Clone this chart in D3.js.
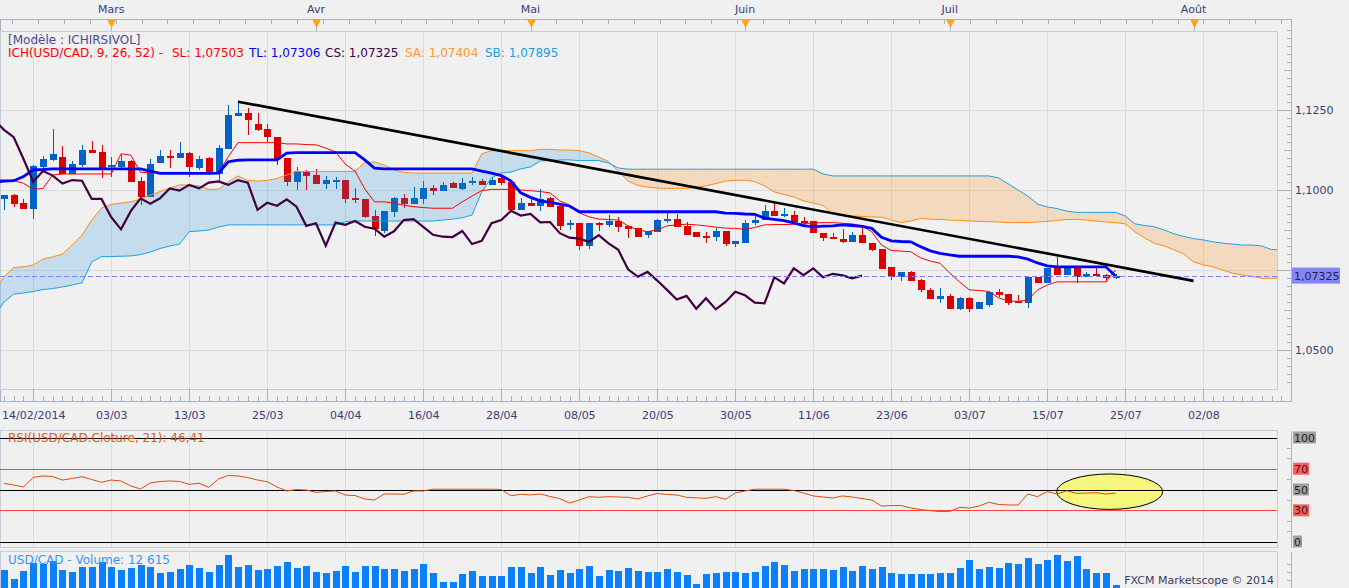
<!DOCTYPE html>
<html><head><meta charset="utf-8">
<script src="https://cdn.jsdelivr.net/npm/d3@7/dist/d3.min.js"></script>
<style>
html,body{margin:0;padding:0;background:#f0f0f0;overflow:hidden;}
svg{display:block;}
</style></head>
<body>
<svg id="chart" width="1349" height="588"></svg>
<script>
// ---------------- DATA ----------------
const opens = [
1.0973,1.0984,1.0960,1.0941,1.1073,1.1095,1.1103,1.1049,1.1078,1.1125,
1.1119,1.1073,1.1073,1.1091,1.1028,1.0979,1.1085,1.1106,1.1101,1.1116,
1.1068,1.1101,1.1050,1.1128,1.1232,1.1240,1.1206,1.1191,1.1166,1.1099,
1.1026,1.1057,1.1047,1.1020,1.1028,1.1031,1.0974,1.0972,1.0919,1.0873,
1.0932,1.0974,1.0957,1.0972,1.1005,1.0998,1.1023,1.1003,1.1025,1.1029,
1.1016,1.1037,1.1026,1.0938,1.0960,1.0951,1.0974,1.0950,1.0891,1.0898,
1.0826,1.0898,1.0891,1.0903,1.0888,1.0882,1.0858,1.0870,1.0904,1.0909,
1.0888,1.0869,1.0855,1.0854,1.0872,1.0831,1.0835,1.0896,1.0906,1.0935,
1.0920,1.0922,1.0902,1.0903,1.0867,1.0854,1.0848,1.0838,1.0859,1.0835,
1.0815,1.0758,1.0727,1.0744,1.0719,1.0688,1.0660,1.0669,1.0629,1.0662,
1.0629,1.0641,1.0681,1.0675,1.0651,1.0646,1.0729,1.0708,1.0755,1.0734,
1.0755,1.0727,1.0738,1.0734,1.0724];
const highs = [
1.0984,1.0988,1.0972,1.1078,1.1106,1.1191,1.1138,1.1091,1.1141,1.1153,
1.1141,1.1104,1.1109,1.1094,1.1041,1.1096,1.1125,1.1125,1.1149,1.1120,
1.1106,1.1104,1.1141,1.1266,1.1276,1.1255,1.1240,1.1205,1.1166,1.1099,
1.1071,1.1063,1.1065,1.1044,1.1040,1.1031,1.1005,1.0972,1.0938,1.0934,
1.0977,1.0988,1.1008,1.1028,1.1016,1.1024,1.1025,1.1037,1.1042,1.1033,
1.1042,1.1040,1.1026,1.0974,1.0974,1.1002,1.0977,1.0950,1.0906,1.0898,
1.0898,1.0901,1.0922,1.0915,1.0888,1.0882,1.0871,1.0908,1.0935,1.0925,
1.0901,1.0869,1.0870,1.0882,1.0872,1.0841,1.0906,1.0919,1.0953,1.0960,
1.0943,1.0935,1.0917,1.0903,1.0867,1.0867,1.0877,1.0870,1.0885,1.0835,
1.0815,1.0758,1.0744,1.0748,1.0721,1.0693,1.0693,1.0675,1.0667,1.0667,
1.0650,1.0685,1.0691,1.0675,1.0672,1.0727,1.0729,1.0755,1.0792,1.0755,
1.0755,1.0745,1.0760,1.0738,1.0738];
const lows = [
1.0938,1.0948,1.0941,1.0909,1.1066,1.1092,1.1050,1.1049,1.1073,1.1117,
1.1038,1.1042,1.1063,1.1026,1.0953,1.0979,1.1085,1.1070,1.1101,1.1042,
1.1063,1.1050,1.1025,1.1128,1.1232,1.1172,1.1184,1.1151,1.1078,1.1013,
1.1000,1.1000,1.1020,1.1004,1.1004,1.0958,1.0958,1.0912,1.0856,1.0867,
1.0917,1.0943,1.0957,1.0957,1.0984,1.0998,1.1005,1.1000,1.1017,1.1016,
1.1016,1.1017,1.0938,1.0938,1.0951,1.0935,1.0948,1.0875,1.0875,1.0813,
1.0816,1.0872,1.0885,1.0870,1.0851,1.0854,1.0851,1.0870,1.0896,1.0885,
1.0860,1.0854,1.0835,1.0841,1.0826,1.0823,1.0835,1.0892,1.0906,1.0920,
1.0917,1.0899,1.0891,1.0865,1.0841,1.0848,1.0833,1.0838,1.0833,1.0810,
1.0752,1.0719,1.0717,1.0717,1.0682,1.0658,1.0646,1.0629,1.0625,1.0620,
1.0629,1.0633,1.0667,1.0641,1.0646,1.0630,1.0708,1.0708,1.0734,1.0734,
1.0708,1.0727,1.0733,1.0713,1.0721];
const closes = [
1.0984,1.0956,1.0941,1.1075,1.1097,1.1112,1.1050,1.1080,1.1125,1.1117,
1.1063,1.1075,1.1091,1.1026,1.0979,1.1081,1.1106,1.1101,1.1115,1.1071,
1.1096,1.1050,1.1130,1.1234,1.1240,1.1219,1.1188,1.1165,1.1097,1.1026,
1.1059,1.1045,1.1020,1.1031,1.1029,1.0972,1.0972,1.0915,1.0877,1.0934,
1.0974,1.0957,1.0974,1.1005,1.0998,1.1016,1.1005,1.1023,1.1027,1.1016,
1.1031,1.1023,1.0938,1.0960,1.0951,1.0971,1.0948,1.0888,1.0896,1.0826,
1.0898,1.0891,1.0903,1.0885,1.0879,1.0854,1.0871,1.0906,1.0909,1.0885,
1.0860,1.0854,1.0853,1.0872,1.0831,1.0841,1.0896,1.0906,1.0935,1.0920,
1.0925,1.0899,1.0900,1.0865,1.0851,1.0848,1.0838,1.0859,1.0833,1.0813,
1.0752,1.0729,1.0744,1.0717,1.0688,1.0658,1.0669,1.0629,1.0662,1.0627,
1.0650,1.0682,1.0671,1.0648,1.0646,1.0727,1.0708,1.0755,1.0734,1.0755,
1.0727,1.0738,1.0733,1.0724,1.07325];

// Ichimoku lines (first value belongs to bar index -1)
const LINE_START = -1;
const tenkan = [1.1034,
1.1031,1.1029,1.1021,1.1002,1.1005,1.1047,1.1050,1.1050,1.1050,1.1050,
1.1050,1.1050,1.1113,1.1109,1.1055,1.1055,1.1055,1.1055,1.1055,1.1055,
1.1052,1.1052,1.1053,1.1104,1.1148,1.1148,1.1148,1.1148,1.1148,1.1144,
1.1144,1.1142,1.1141,1.1131,1.1119,1.1081,1.1059,1.1003,1.0963,1.0963,
1.0959,1.0952,1.0948,1.0945,1.0943,1.0943,1.0943,1.0963,1.0981,1.0998,
1.1002,1.1002,1.1002,1.1000,1.0998,1.0995,1.0991,1.0966,1.0953,1.0929,
1.0916,1.0909,1.0908,1.0906,1.0888,1.0875,1.0870,1.0875,1.0888,1.0891,
1.0893,1.0891,1.0888,1.0884,1.0881,1.0880,1.0877,1.0883,1.0891,1.0892,
1.0892,1.0893,1.0895,1.0897,1.0898,1.0898,1.0896,1.0894,1.0888,1.0869,
1.0828,1.0811,1.0809,1.0807,1.0788,1.0778,1.0771,1.0740,1.0713,1.0688,
1.0686,1.0683,1.0663,1.0653,1.0652,1.0656,1.0688,1.0703,1.0713,1.0713,
1.0713,1.0713,1.0713,1.0713,1.0750];
const kijun = [1.1023,
1.1028,1.1029,1.1042,1.1063,1.1064,1.1066,1.1066,1.1066,1.1066,1.1066,
1.1066,1.1066,1.1066,1.1066,1.1066,1.1059,1.1052,1.1052,1.1052,1.1052,
1.1052,1.1052,1.1053,1.1088,1.1093,1.1094,1.1094,1.1094,1.1094,1.1115,
1.1117,1.1117,1.1117,1.1117,1.1117,1.1117,1.1117,1.1094,1.1068,1.1066,
1.1066,1.1066,1.1066,1.1066,1.1066,1.1066,1.1066,1.1066,1.1066,1.1059,
1.1053,1.1045,1.1028,1.0991,1.0977,1.0966,1.0961,1.0956,1.0950,1.0932,
1.0932,1.0932,1.0932,1.0932,1.0932,1.0932,1.0932,1.0932,1.0932,1.0932,
1.0932,1.0932,1.0932,1.0932,1.0928,1.0927,1.0925,1.0924,1.0912,1.0908,
1.0904,1.0897,1.0889,1.0885,1.0887,1.0888,1.0891,1.0889,1.0886,1.0880,
1.0852,1.0841,1.0839,1.0838,1.0823,1.0810,1.0802,1.0797,1.0793,1.0793,
1.0793,1.0793,1.0793,1.0793,1.0791,1.0784,1.0772,1.0763,1.0760,1.0760,
1.0760,1.0760,1.0760,1.0760,1.0731];
const chikou = [
1.1219,1.1188,1.1165,1.1097,1.1026,1.1059,1.1045,1.1020,1.1031,1.1029,
1.0972,1.0972,1.0915,1.0877,1.0934,1.0974,1.0957,1.0974,1.1005,1.0998,
1.1016,1.1005,1.1023,1.1027,1.1016,1.1031,1.1023,1.0938,1.0960,1.0951,
1.0971,1.0948,1.0888,1.0896,1.0826,1.0898,1.0891,1.0903,1.0885,1.0879,
1.0854,1.0871,1.0906,1.0909,1.0885,1.0860,1.0854,1.0853,1.0872,1.0831,
1.0841,1.0896,1.0906,1.0935,1.0920,1.0925,1.0899,1.0900,1.0865,1.0851,
1.0848,1.0838,1.0859,1.0833,1.0813,1.0752,1.0729,1.0744,1.0717,1.0688,
1.0658,1.0669,1.0629,1.0662,1.0627,1.0650,1.0682,1.0671,1.0648,1.0646,
1.0727,1.0708,1.0755,1.0734,1.0755,1.0727,1.0738,1.0733,1.0724,1.07325];
const senkouA = [1.0681,
1.0728,1.0758,1.0760,1.0766,1.0784,1.0791,1.0800,1.0828,1.0859,1.0906,
1.0944,1.0955,1.0959,1.0963,1.0972,1.0984,1.0995,1.1006,1.1016,1.1016,
1.1013,1.1002,1.1003,1.1025,1.1044,1.1030,1.1028,1.1030,1.1036,1.1047,
1.1058,1.1058,1.1058,1.1058,1.1058,1.1058,1.1058,1.1086,1.1088,1.1078,
1.1063,1.1055,1.1053,1.1053,1.1053,1.1053,1.1053,1.1053,1.1053,1.1113,
1.1123,1.1123,1.1123,1.1123,1.1123,1.1127,1.1127,1.1125,1.1125,1.1123,
1.1116,1.1103,1.1089,1.1059,1.1028,1.1014,1.1009,1.1006,1.1005,1.1005,
1.1005,1.1008,1.1013,1.1020,1.1028,1.1030,1.1031,1.1026,1.1013,1.0994,
1.0986,1.0978,1.0966,1.0959,1.0952,1.0925,1.0920,1.0919,1.0917,1.0916,
1.0915,1.0906,1.0898,1.0903,1.0911,1.0909,1.0908,1.0906,1.0905,1.0903,
1.0902,1.0901,1.0900,1.0898,1.0898,1.0898,1.0900,1.0902,1.0905,1.0908,
1.0908,1.0906,1.0903,1.0900,1.0898,1.0894,1.0869,1.0850,1.0833,1.0825,
1.0813,1.0800,1.0775,1.0766,1.0760,1.0750,1.0740,1.0734,1.0730,1.0724,
1.0724,1.0725];
const senkouB = [1.0606,
1.0650,1.0675,1.0678,1.0683,1.0689,1.0692,1.0697,1.0703,1.0710,1.0775,
1.0792,1.0792,1.0793,1.0794,1.0798,1.0806,1.0817,1.0825,1.0831,1.0870,
1.0872,1.0875,1.0884,1.0891,1.0891,1.0891,1.0891,1.0891,1.0891,1.0891,
1.0891,1.0891,1.0891,1.0891,1.0891,1.0901,1.0903,1.0903,1.0903,1.0903,
1.0903,1.0903,1.0903,1.0903,1.0903,1.0906,1.0909,1.0913,1.0922,1.0994,
1.1038,1.1053,1.1056,1.1066,1.1072,1.1091,1.1092,1.1094,1.1094,1.1092,
1.1092,1.1092,1.1084,1.1069,1.1065,1.1065,1.1065,1.1065,1.1065,1.1065,
1.1065,1.1065,1.1065,1.1065,1.1065,1.1065,1.1065,1.1065,1.1065,1.1065,
1.1065,1.1065,1.1065,1.1065,1.1050,1.1044,1.1044,1.1044,1.1044,1.1044,
1.1044,1.1044,1.1044,1.1044,1.1044,1.1044,1.1044,1.1044,1.1044,1.1044,
1.1044,1.1044,1.1038,1.1019,1.1000,1.0981,1.0956,1.0947,1.0942,1.0934,
1.0930,1.0930,1.0930,1.0930,1.0930,1.0919,1.0894,1.0889,1.0885,1.0875,
1.0863,1.0855,1.0848,1.0844,1.0838,1.0834,1.0831,1.0828,1.0828,1.0825,
1.0814,1.0813];

const volumes = [
99000,46000,93000,142000,139000,158000,99000,87000,117000,117000,
147000,117000,99000,111000,129000,117000,81000,87000,105000,129000,
111000,87000,129000,194000,117000,129000,99000,105000,123000,147000,
111000,123000,87000,81000,93000,123000,87000,123000,123000,105000,
105000,93000,105000,135000,81000,28000,28000,75000,93000,64000,
64000,64000,119000,119000,83000,119000,69000,99000,85000,105000,
125000,65000,99000,95000,113000,93000,89000,89000,105000,89000,
69000,18000,80000,85000,89000,89000,85000,89000,125000,148000,
129000,95000,105000,105000,105000,99000,119000,93000,125000,109000,
119000,85000,80000,80000,80000,80000,85000,85000,113000,164000,
105000,119000,113000,141000,135000,172000,135000,164000,194000,154000,
188000,105000,83000,85000,12615];

const rsiValues = [
55.8,54.3,52.4,61.7,63.0,62.5,59.1,60.6,62.3,59.6,
56.9,59.1,58.2,53.4,50.5,56.3,57.7,58.2,57.7,55.0,
56.0,52.1,60.1,63.5,63.0,61.5,59.1,57.5,52.4,48.6,
50.0,49.5,47.3,48.1,48.6,44.7,44.2,40.9,39.9,45.7,
45.7,45.4,48.6,48.6,50.3,50.3,50.3,50.3,50.3,50.3,
50.3,50.0,44.0,45.4,44.7,45.7,43.3,41.3,37.0,39.9,
43.1,42.5,43.1,42.8,42.5,40.9,43.8,46.2,45.2,44.7,
42.5,42.0,41.5,43.1,40.6,46.6,48.6,50.3,50.3,50.3,
50.3,49.0,46.6,43.8,42.8,41.8,43.8,42.8,41.3,39.9,
34.1,34.6,34.6,32.2,30.8,29.6,28.8,28.8,32.9,32.2,
34.1,37.7,35.6,35.1,35.1,45.7,43.1,47.9,45.7,48.8,
46.3,46.6,46.9,45.7,46.41];

const rsiLevels = [100, 70, 50, 30, 0];
const priceTicks = [1.05, 1.075, 1.10, 1.125];
const dateTickIndex = [3, 11, 19, 27, 35, 43, 51, 59, 67, 75, 83, 91, 99, 107, 115, 123];
const dateTickLabels = ["14/02/2014","03/03","13/03","25/03","04/04","16/04","28/04","08/05",
                        "20/05","30/05","11/06","23/06","03/07","15/07","25/07","02/08"];
const monthIndex = [11, 32, 54, 76, 97, 122];
const monthLabels = ["Mars", "Avr", "Mai", "Juin", "Juil", "Août"];
const trendIndex = [24, 122];
const trendPrice = [1.1276, 1.0716];
const legendNames = ["SL", "TL", "CS", "SA", "SB"];
const legendValues = ["1,07503", "1,07306", "1,07325", "1,07404", "1,07895"];
const ellipseCenter = {i: 113.4, rsi: 47.9};

// ---------------- DRAWING ----------------
(function () {
const FONT = '"DejaVu Sans", Verdana, sans-serif';
const svg = d3.select('#chart');
const PR = 1277, PT = 31, PB = 389, AX = 1291.5;
const FRAME = '#a9b2c2', BOX = '#c6cdd8', GRID = '#dcdcdc';
const UP = '#0062c4', DN = '#dd0000';

const x = d3.scaleLinear().domain([-0.41, 130.56]).range([0, PR]);
const y = d3.scaleLinear().domain([1.05, 1.15]).range([350, 30]);
const rsiY = d3.scaleLinear().domain([0, 100]).range([541.5, 437.5]);
const volY = d3.scaleLinear().domain([0, 200000]).range([587, 553.5]);
const fmtP = d => d.toFixed(4).replace('.', ',');
const lastVal = closes[closes.length - 1];

svg.append('rect').attr('width', 1349).attr('height', 588).attr('fill', '#f0f0f0');
const defs = svg.append('defs');
defs.append('clipPath').attr('id', 'clipMain').append('rect').attr('x', 0).attr('y', PT).attr('width', PR).attr('height', PB - PT);
defs.append('clipPath').attr('id', 'clipRsi').append('rect').attr('x', 0).attr('y', 431).attr('width', PR).attr('height', 116);
defs.append('clipPath').attr('id', 'clipVol').append('rect').attr('x', 0).attr('y', 552).attr('width', PR).attr('height', 36);

const series = (arr, start) => arr.map((v, k) => ({i: k + start, v}));

// ---- frames ----
const fr = svg.append('g').attr('shape-rendering', 'crispEdges').attr('fill', 'none');
fr.append('line').attr('x1', 0).attr('x2', AX).attr('y1', 19.5).attr('y2', 19.5).attr('stroke', FRAME);
fr.append('line').attr('x1', 0).attr('x2', AX).attr('y1', 401.5).attr('y2', 401.5).attr('stroke', FRAME);
fr.append('line').attr('x1', AX).attr('x2', AX).attr('y1', 19.5).attr('y2', 401.5).attr('stroke', FRAME);
fr.append('line').attr('x1', 0.5).attr('x2', 0.5).attr('y1', 19.5).attr('y2', 401.5).attr('stroke', FRAME);
fr.append('rect').attr('x', 0.5).attr('y', PT + 0.5).attr('width', PR - 0.5).attr('height', PB - PT).attr('stroke', BOX);
fr.append('rect').attr('x', 0.5).attr('y', 430.5).attr('width', PR - 0.5).attr('height', 117).attr('stroke', BOX);
fr.append('line').attr('x1', AX).attr('x2', AX).attr('y1', 430.5).attr('y2', 547.5).attr('stroke', FRAME);
fr.append('rect').attr('x', 0.5).attr('y', 551.5).attr('width', PR - 0.5).attr('height', 40).attr('stroke', BOX);
fr.append('line').attr('x1', AX).attr('x2', AX).attr('y1', 551.5).attr('y2', 588).attr('stroke', FRAME);

// ---- grid lines ----
const grid = svg.append('g').attr('shape-rendering', 'crispEdges').attr('stroke', GRID);
[[PT + 1, PB], [431, 547], [552, 588]].forEach(([a, b]) => {
  grid.selectAll(null).data(dateTickIndex).join('line')
    .attr('x1', d => Math.round(x(d)) + 0.5).attr('x2', d => Math.round(x(d)) + 0.5)
    .attr('y1', a).attr('y2', b);
});
grid.selectAll(null).data(priceTicks).join('line')
  .attr('x1', 1).attr('x2', PR).attr('y1', d => Math.round(y(d)) + 0.5).attr('y2', d => Math.round(y(d)) + 0.5);

// ---- main plot ----
const main = svg.append('g').attr('clip-path', 'url(#clipMain)');
const bars = d3.range(closes.length);
const gC = main.append('g').attr('shape-rendering', 'crispEdges');
gC.selectAll('line').data(bars).join('line')
  .attr('x1', i => Math.round(x(i)) + 0.5).attr('x2', i => Math.round(x(i)) + 0.5)
  .attr('y1', i => y(highs[i])).attr('y2', i => y(lows[i]))
  .attr('stroke', i => closes[i] >= opens[i] ? UP : DN);
gC.selectAll('rect').data(bars).join('rect')
  .attr('x', i => Math.round(x(i)) - 3).attr('width', 7)
  .attr('y', i => {
    const a = y(opens[i]), b = y(closes[i]);
    return Math.abs(a - b) < 2 ? (a + b) / 2 - 1 : Math.min(a, b);
  })
  .attr('height', i => Math.max(2, Math.abs(y(opens[i]) - y(closes[i]))))
  .attr('fill', i => closes[i] >= opens[i] ? UP : DN);

// cloud
const cloud = senkouA.map((a, k) => ({i: k + LINE_START, a, b: senkouB[k]}));
defs.append('clipPath').attr('id', 'belowA').append('path')
  .attr('d', d3.area().x(d => x(d.i)).y0(d => y(d.a)).y1(PB + 5)(cloud));
defs.append('clipPath').attr('id', 'aboveA').append('path')
  .attr('d', d3.area().x(d => x(d.i)).y0(PT - 5).y1(d => y(d.a))(cloud));
main.append('g').attr('clip-path', 'url(#belowA)').append('path')
  .attr('d', d3.area().x(d => x(d.i)).y0(PT - 5).y1(d => y(d.b))(cloud))
  .attr('fill', 'rgba(20,140,220,0.2)');
main.append('g').attr('clip-path', 'url(#aboveA)').append('path')
  .attr('d', d3.area().x(d => x(d.i)).y0(d => y(d.b)).y1(PB + 5)(cloud))
  .attr('fill', 'rgba(255,140,20,0.22)');

const line = d3.line().x(d => x(d.i)).y(d => y(d.v));
main.append('path').attr('d', line(series(senkouA, LINE_START))).attr('fill', 'none').attr('stroke', '#ff8c1a').attr('stroke-width', 1);
main.append('path').attr('d', line(series(senkouB, LINE_START))).attr('fill', 'none').attr('stroke', '#1ea0e6').attr('stroke-width', 1);
main.append('path').attr('d', line(series(tenkan, LINE_START))).attr('fill', 'none').attr('stroke', '#ff0000').attr('stroke-width', 1);
main.append('path').attr('d', line(series(kijun, LINE_START))).attr('fill', 'none').attr('stroke', '#0000ff').attr('stroke-width', 2.8);
main.append('path').attr('d', line(series(chikou, LINE_START))).attr('fill', 'none').attr('stroke', '#400040').attr('stroke-width', 2.2);

const lastY = Math.round(y(lastVal)) + 0.5;
main.append('line').attr('x1', 0).attr('x2', PR).attr('y1', lastY).attr('y2', lastY)
  .attr('stroke', '#8080ff').attr('stroke-dasharray', '5,3').attr('shape-rendering', 'crispEdges');

main.append('line').attr('x1', x(trendIndex[0])).attr('y1', y(trendPrice[0]))
  .attr('x2', x(trendIndex[1])).attr('y2', y(trendPrice[1]))
  .attr('stroke', '#000').attr('stroke-width', 2.6);

// ---- price axis (right) ----
const styleAxis = g => {
  g.select('.domain').remove();
  g.attr('font-family', FONT).attr('font-size', 11).attr('color', FRAME);
  g.selectAll('text').attr('fill', '#3c3c78');
  g.selectAll('line').attr('shape-rendering', 'crispEdges');
};
const minorP = d3.range(0, 45).map(k => 1.04 + k * 0.0025).filter(v => y(v) > 20 && y(v) < 400);
svg.append('g').attr('transform', `translate(${AX - 0.5},0)`)
  .call(d3.axisRight(y).tickValues(minorP).tickSize(-4).tickFormat('')).call(styleAxis);
svg.append('g').attr('transform', `translate(${AX - 0.5},0)`)
  .call(d3.axisRight(y).tickValues([1.0625, 1.0875, 1.1125, 1.1375]).tickSize(-7).tickFormat('')).call(styleAxis);
// labels hidden by the last-price box are not printed (the box covers them in the reference)
svg.append('g').attr('transform', `translate(${AX - 0.5},0)`)
  .call(d3.axisRight(y).tickValues(priceTicks).tickSize(-14).tickPadding(4)
    .tickFormat(d => Math.abs(y(d) - y(lastVal)) < 12 ? '' : fmtP(d))).call(styleAxis);

svg.append('rect').attr('x', 1292).attr('y', y(lastVal) - 8).attr('width', 48).attr('height', 16).attr('fill', '#8585f5');
svg.append('text').attr('x', 1294).attr('y', y(lastVal) + 4).attr('font-family', FONT).attr('font-size', 11)
  .attr('fill', '#1e1e50').text(lastVal.toFixed(5).replace('.', ','));

// ---- date axis (bottom) ----
svg.append('g').attr('transform', 'translate(0,396)')
  .call(d3.axisBottom(x).tickValues(d3.range(0, 132)).tickSize(5).tickFormat('')).call(styleAxis);
svg.append('g').attr('transform', `translate(0,${PB})`)
  .call(d3.axisBottom(x).tickValues(dateTickIndex).tickSize(12).tickPadding(10.5)
    .tickFormat((d, k) => dateTickLabels[k])).call(styleAxis);

// ---- month axis (top) ----
const topG = svg.append('g');
topG.append('g').attr('stroke', FRAME).attr('shape-rendering', 'crispEdges')
  .selectAll('line').data(d3.range(12, 1290, 25.9)).join('line')
  .attr('x1', d => Math.round(d) + 0.5).attr('x2', d => Math.round(d) + 0.5).attr('y1', 19.5).attr('y2', 24);
topG.selectAll('line.stem').data(monthIndex).join('line').attr('class', 'stem')
  .attr('x1', d => Math.round(x(d)) + 0.5).attr('x2', d => Math.round(x(d)) + 0.5)
  .attr('y1', 26).attr('y2', 31).attr('stroke', '#b0b8c4');
topG.selectAll('path').data(monthIndex).join('path')
  .attr('d', d => { const c = Math.round(x(d)) + 0.5; return `M${c - 4.5},19.5L${c + 4.5},19.5L${c},28Z`; })
  .attr('fill', '#ffa31a');
topG.selectAll('text').data(monthIndex).join('text')
  .attr('x', d => x(d)).attr('y', 13).attr('text-anchor', 'middle')
  .attr('font-family', FONT).attr('font-size', 11).attr('fill', '#3c3c78')
  .text((d, k) => monthLabels[k]);

// ---- legend ----
svg.append('text').attr('x', 8).attr('y', 44).attr('font-family', FONT).attr('font-size', 12)
  .attr('fill', '#4a4a90').text('[Modèle : ICHIRSIVOL]');
const legColors = ['#ff0000', '#0000ff', '#400040', '#ff9933', '#1e9be6'];
const legX = [172, 249, 325, 405, 485];
svg.append('text').attr('x', 8).attr('y', 57).attr('font-family', FONT).attr('font-size', 12)
  .attr('fill', '#ff0000').text('ICH(USD/CAD, 9, 26, 52) -');
legendNames.forEach((n, k) => {
  svg.append('text').attr('x', legX[k]).attr('y', 57).attr('font-family', FONT).attr('font-size', 12)
    .attr('fill', legColors[k]).text(`${n}: ${legendValues[k]}`);
});

// ---- RSI panel ----
const rsiG = svg.append('g').attr('clip-path', 'url(#clipRsi)');
rsiG.append('ellipse').attr('cx', x(ellipseCenter.i)).attr('cy', rsiY(ellipseCenter.rsi))
  .attr('rx', 53).attr('ry', 17.7).attr('fill', '#f6f67c').attr('stroke', '#000').attr('stroke-width', 1);
rsiG.selectAll('line').data(rsiLevels).join('line')
  .attr('x1', 0).attr('x2', PR)
  .attr('y1', d => Math.round(rsiY(d)) + 0.5).attr('y2', d => Math.round(rsiY(d)) + 0.5)
  .attr('stroke', d => (d === 70 || d === 30) ? '#ff4444' : '#000').attr('shape-rendering', 'crispEdges');
rsiG.append('path').attr('d', d3.line().x((d, i) => x(i)).y(d => rsiY(d))(rsiValues))
  .attr('fill', 'none').attr('stroke', '#e24a0a').attr('stroke-width', 1);
svg.append('text').attr('x', 8).attr('y', 442).attr('font-family', FONT).attr('font-size', 12)
  .attr('fill', '#e0561e').text('RSI(USD/CAD.Cloture, 21): ' + rsiValues[rsiValues.length - 1].toFixed(2).replace('.', ','));
svg.append('g').attr('transform', `translate(${AX - 0.5},0)`)
  .call(d3.axisRight(rsiY).tickValues([10, 20, 40, 60, 80, 90]).tickSize(-4).tickFormat('')).call(styleAxis);
rsiLevels.forEach(v => {
  const t = svg.append('text').attr('x', 1294).attr('y', rsiY(v) + 4).attr('font-family', FONT)
    .attr('font-size', 11).attr('fill', '#1e1e1e').text(String(v));
  const w = t.node().getComputedTextLength();
  svg.insert('rect', () => t.node()).attr('x', 1293).attr('y', rsiY(v) - 6).attr('width', w + 2).attr('height', 12)
    .attr('fill', (v === 70 || v === 30) ? '#ff5c5c' : '#a0a0a0');
});

// ---- Volume panel ----
const volG = svg.append('g').attr('clip-path', 'url(#clipVol)').attr('shape-rendering', 'crispEdges');
volG.selectAll('rect').data(volumes).join('rect')
  .attr('x', (d, i) => Math.round(x(i)) - 3).attr('width', 7)
  .attr('y', d => volY(d)).attr('height', d => volY(0) - volY(d) + 2)
  .attr('fill', '#0a80ff');
svg.append('g').attr('transform', `translate(${AX - 0.5},0)`)
  .call(d3.axisRight(volY).tickValues([40000, 90000, 140000]).tickSize(-4).tickFormat('')).call(styleAxis);
svg.append('text').attr('x', 8).attr('y', 564).attr('font-family', FONT).attr('font-size', 12)
  .attr('fill', '#3399ff').text('USD/CAD - Volume: ' + d3.format(',')(volumes[volumes.length - 1]).replace(',', ' '));
svg.append('text').attr('x', 1274).attr('y', 584).attr('text-anchor', 'end').attr('font-family', FONT)
  .attr('font-size', 11).attr('fill', '#3c3c60').text('FXCM Marketscope © 2014');
})();
</script>
</body></html>
